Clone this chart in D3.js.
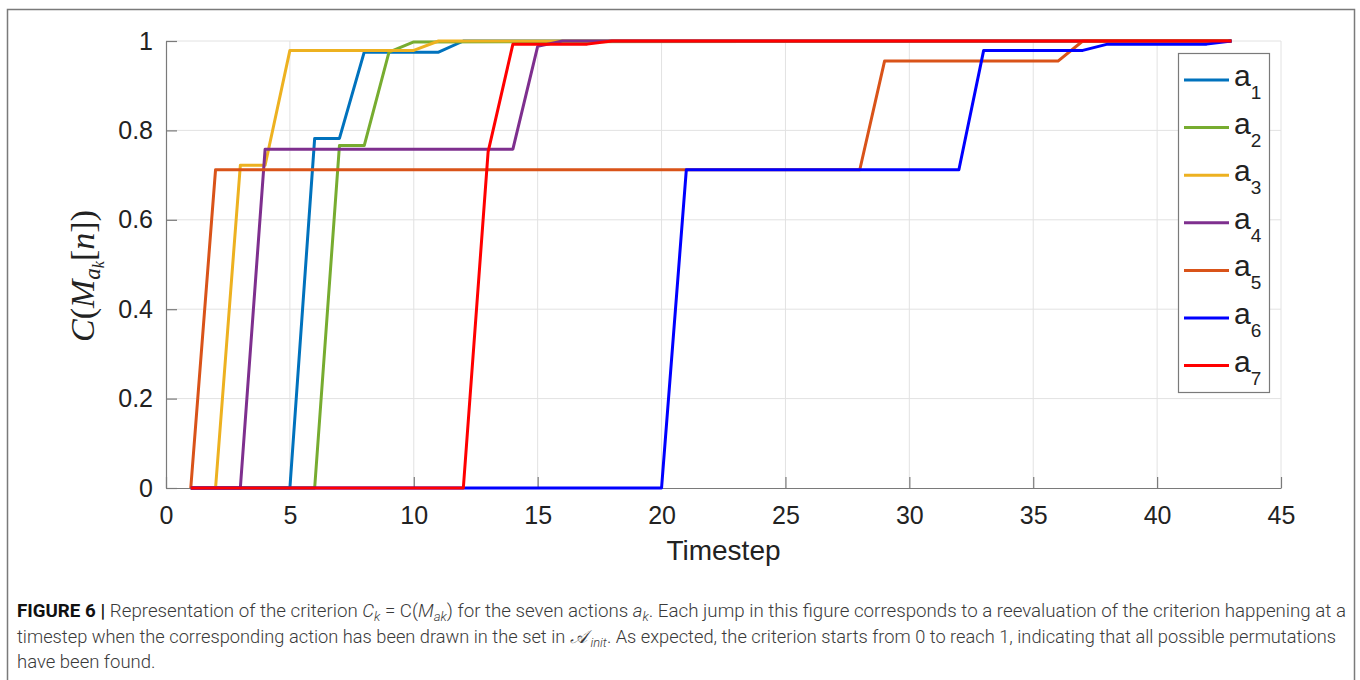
<!DOCTYPE html>
<html>
<head>
<meta charset="utf-8">
<script src="https://cdn.jsdelivr.net/npm/d3@7"></script>
<style>
  html, body { margin: 0; padding: 0; background: #fff; }
  svg { display: block; }
  .tick text { font-family: "Liberation Sans", Arial, sans-serif; font-size: 25px; fill: #222; }
</style>
</head>
<body>
<svg id="chart" width="1360" height="680"></svg>
<script>
/* ── criterion C_k per action, breakpoints [timestep, value] ── */
const seriesNames = ['1', '2', '3', '4', '5', '6', '7'];
const seriesColors = ['#0072BD', '#77AC30', '#EDB120', '#7E2F8E', '#D95319', '#0000FF', '#FF0000'];

const a1 = [[1, 0], [5, 0], [6, 0.782], [7, 0.782], [8, 0.975], [11, 0.975], [12, 1], [43, 1]];
const a2 = [[1, 0], [6, 0], [7, 0.766], [8, 0.766], [9, 0.975], [10, 0.998], [43, 1]];
const a3 = [[1, 0], [2, 0], [3, 0.722], [4, 0.722], [5, 0.979], [10, 0.979], [11, 1], [43, 1]];
const a4 = [[1, 0], [3, 0], [4, 0.758], [14, 0.758], [15, 0.988], [16, 1], [43, 1]];
const a5 = [[1, 0], [2, 0.712], [28, 0.712], [29, 0.955], [36, 0.955], [37, 1], [43, 1]];
const a6 = [[1, 0], [20, 0], [21, 0.712], [32, 0.712], [33, 0.979], [37, 0.979], [38, 0.993], [42, 0.993], [43, 1]];
const a7 = [[1, 0], [12, 0], [13, 0.752], [14, 0.993], [17, 0.993], [18, 1], [43, 1]];
const seriesData = [a1, a2, a3, a4, a5, a6, a7];

const xTicks = [0, 5, 10, 15, 20, 25, 30, 35, 40, 45];
const yTicks = [0, 0.2, 0.4, 0.6, 0.8, 1];
const yTickLabels = ['0', '0.2', '0.4', '0.6', '0.8', '1'];

const svg = d3.select('#chart');

// outer figure frame
svg.append('rect')
  .attr('x', 7.5).attr('y', 9.5)
  .attr('width', 1347).attr('height', 720)
  .attr('fill', 'none')
  .attr('stroke', '#7a7a7a')
  .attr('stroke-width', 1.5);

const x = d3.scaleLinear().domain([0, 45]).range([166, 1281]);
const y = d3.scaleLinear().domain([0, 1]).range([488, 41]);

// Grid lines
svg.append('g')
  .selectAll('line.gx')
  .data(xTicks.slice(1))
  .join('line')
  .attr('x1', d => x(d)).attr('x2', d => x(d))
  .attr('y1', y(0)).attr('y2', y(1))
  .attr('stroke', '#e2e2e2').attr('stroke-width', 1);

svg.append('g')
  .selectAll('line.gy')
  .data(yTicks.slice(1))
  .join('line')
  .attr('x1', x(0)).attr('x2', x(45))
  .attr('y1', d => y(d)).attr('y2', d => y(d))
  .attr('stroke', '#e2e2e2').attr('stroke-width', 1);

// Axes (ticks pointing inward, no box)
const xAxis = svg.append('g')
  .attr('transform', `translate(0,${y(0)})`)
  .call(d3.axisBottom(x).tickValues(xTicks).tickSizeInner(-11).tickSizeOuter(0).tickPadding(18));

const yAxis = svg.append('g')
  .attr('transform', `translate(${x(0)},0)`)
  .call(d3.axisLeft(y).tickValues(yTicks).tickFormat((d, i) => yTickLabels[i])
    .tickSizeInner(-11).tickSizeOuter(0).tickPadding(13));

[xAxis, yAxis].forEach(a => {
  a.select('.domain').attr('stroke', '#7a7a7a').attr('stroke-width', 1.2);
  a.selectAll('.tick line').attr('stroke', '#7a7a7a').attr('stroke-width', 1.2);
});

// X axis label
svg.append('text')
  .attr('x', (x(0) + x(45)) / 2)
  .attr('y', 560)
  .attr('text-anchor', 'middle')
  .attr('font-family', '"Liberation Sans", Arial, sans-serif')
  .attr('font-size', 28)
  .attr('fill', '#222')
  .text('Timestep');

// Y axis label  C(M_{a_k}[n])
const yl = svg.append('text')
  .attr('transform', 'translate(94,276) rotate(-90)')
  .attr('text-anchor', 'middle')
  .attr('font-family', '"Liberation Serif", "Times New Roman", serif')
  .attr('font-size', 34)
  .attr('fill', '#222');
yl.append('tspan').attr('font-style', 'italic').text('C');
yl.append('tspan').text('(');
yl.append('tspan').attr('font-style', 'italic').text('M');
yl.append('tspan').attr('font-style', 'italic').attr('font-size', 23).attr('dy', 6).text('a');
yl.append('tspan').attr('font-style', 'italic').attr('font-size', 16).attr('dy', 4).text('k');
yl.append('tspan').attr('dy', -10).text('[');
yl.append('tspan').attr('font-style', 'italic').text('n');
yl.append('tspan').text('])');

// Series lines
const line = d3.line().x(d => x(d[0])).y(d => y(d[1]));

svg.append('g')
  .selectAll('path')
  .data(seriesData)
  .join('path')
  .attr('d', line)
  .attr('fill', 'none')
  .attr('stroke', (d, i) => seriesColors[i])
  .attr('stroke-width', 3)
  .attr('stroke-linejoin', 'round');

// Legend
const lg = svg.append('g');
lg.append('rect')
  .attr('x', 1178.5).attr('y', 53.5)
  .attr('width', 91).attr('height', 339)
  .attr('fill', '#fff')
  .attr('stroke', '#7a7a7a').attr('stroke-width', 1.2);

const rowY = i => 80 + i * 47.6;
const items = lg.selectAll('g.item')
  .data(seriesNames)
  .join('g')
  .attr('transform', (d, i) => `translate(0,${rowY(i)})`);

items.append('line')
  .attr('x1', 1184).attr('x2', 1229)
  .attr('y1', 0).attr('y2', 0)
  .attr('stroke', (d, i) => seriesColors[i])
  .attr('stroke-width', 3);

const lt = items.append('text')
  .attr('x', 1234)
  .attr('y', 6)
  .attr('font-family', '"Liberation Sans", Arial, sans-serif')
  .attr('font-size', 30)
  .attr('fill', '#222');
lt.append('tspan').text('a');
lt.append('tspan').attr('font-size', 19).attr('dy', 13).text(d => d);

// Caption
const capFont = 'Roboto, "Liberation Sans", Arial, sans-serif';
const captionLines = [
  { y: 617, len: 1329, segs: [
    { t: 'FIGURE 6 | ', b: true },
    { t: 'Representation of the criterion ' },
    { t: 'C', i: true }, { t: 'k', i: true, sub: true },
    { t: ' = C(' }, { t: 'M', i: true }, { t: 'ak', i: true, sub: true },
    { t: ') for the seven actions ' },
    { t: 'a', i: true }, { t: 'k', i: true, sub: true },
    { t: '. Each jump in this figure corresponds to a reevaluation of the criterion happening at a' }
  ]},
  { y: 643, len: 1319, segs: [
    { t: 'timestep when the corresponding action has been drawn in the set in ' },
    { t: '\u{1D49C}', s: true }, { t: 'init', i: true, sub: true, dx: 3 },
    { t: '. As expected, the criterion starts from 0 to reach 1, indicating that all possible permutations' }
  ]},
  { y: 668, len: null, segs: [{ t: 'have been found.' }] }
];

captionLines.forEach(cl => {
  const t = svg.append('text')
    .attr('x', 17).attr('y', cl.y)
    .attr('font-family', capFont)
    .attr('font-size', 18.5)
    .attr('font-weight', 300)
    .attr('fill', '#3a3a3a');
  if (cl.len) t.attr('textLength', cl.len).attr('lengthAdjust', 'spacingAndGlyphs');
  let down = false;
  cl.segs.forEach(s => {
    const ts = t.append('tspan').text(s.t);
    if (s.b) ts.attr('font-weight', 700).attr('fill', '#111');
    if (s.i) ts.attr('font-style', 'italic');
    if (s.dx) ts.attr('dx', s.dx);
    if (s.s) ts.attr('font-family', '"DejaVu Serif", "DejaVu Sans", serif').attr('font-style', 'italic');
    if (s.sub && !down) { ts.attr('dy', 4).attr('font-size', 13); down = true; }
    else if (s.sub) ts.attr('font-size', 13);
    else if (down) { ts.attr('dy', -4); down = false; }
  });
});
</script>
</body>
</html>
